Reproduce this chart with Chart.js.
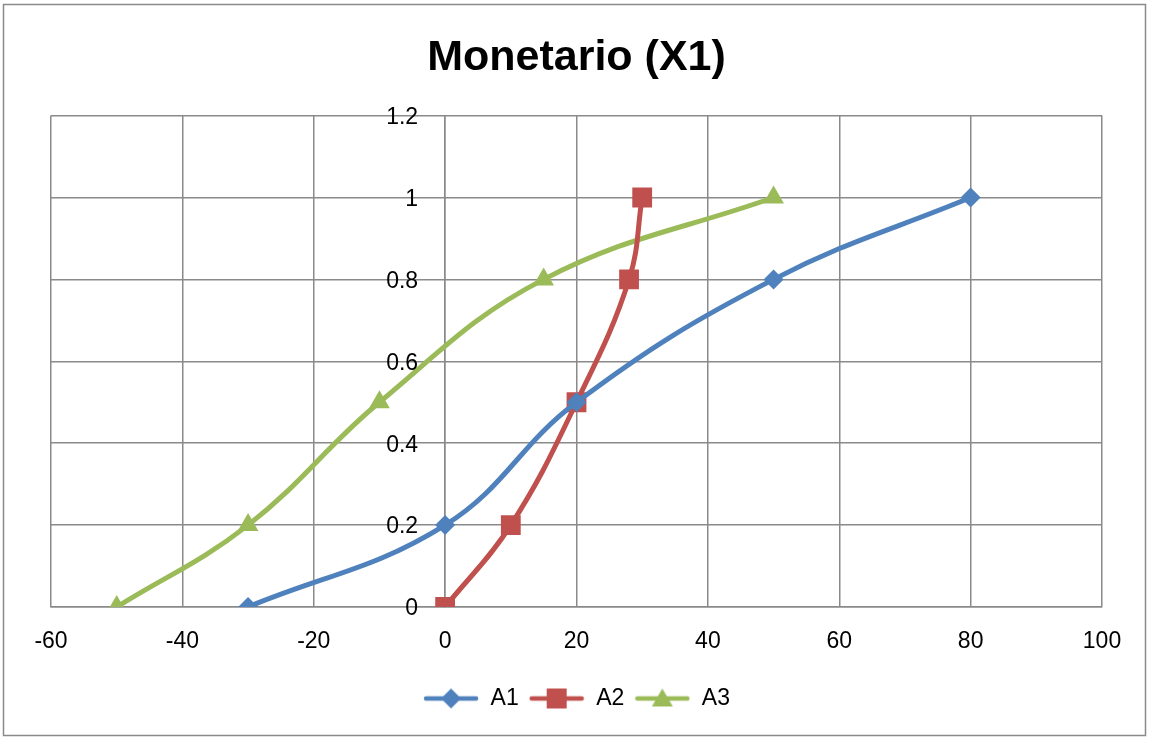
<!DOCTYPE html>
<html>
<head>
<meta charset="utf-8">
<script src="https://cdn.jsdelivr.net/npm/chart.js@4.4.1/dist/chart.umd.min.js"></script>
<style>
  html, body { margin: 0; padding: 0; background: #fff; }
  #wrap { width: 1149px; height: 738px; }
</style>
</head>
<body>
<div id="wrap"><canvas id="chart" width="1149" height="738"></canvas></div>
<script>
// series values (x = monetary value, y = cumulative share)
const a1X = [-30, 0, 20, 50, 80];
const a1Y = [0, 0.2, 0.5, 0.8, 1];
const a2X = [0, 10, 20, 28, 30];
const a2Y = [0, 0.2, 0.5, 0.8, 1];
const a3X = [-50, -30, -10, 15, 50];
const a3Y = [0, 0.2, 0.5, 0.8, 1];

const seriesNames = ['A1', 'A2', 'A3'];
const xTicks = [-60, -40, -20, 0, 20, 40, 60, 80, 100];
const yTicks = [0, 0.2, 0.4, 0.6, 0.8, 1, 1.2];

const colors = ['#4F81BD', '#C0504D', '#9BBB59'];
const markers = ['rectRot', 'rect', 'triangle'];
const radii = [10, 14, 12];
const FONT = '"Liberation Sans", Arial, sans-serif';
const GRID = '#8a8a8a';

const toPoints = (xs, ys) => xs.map((x, i) => ({ x: x, y: ys[i] }));

// legend swatch: short line with the marker on top
function legendIcon(color, style) {
  const c = document.createElement('canvas');
  c.width = 56; c.height = 22;
  const g = c.getContext('2d');
  g.strokeStyle = color;
  g.fillStyle = color;
  g.lineWidth = 4.5;
  g.lineCap = 'round';
  g.beginPath(); g.moveTo(3, 11); g.lineTo(53, 11); g.stroke();
  g.beginPath();
  if (style === 'rectRot') {
    g.moveTo(28, 1); g.lineTo(38, 11); g.lineTo(28, 21); g.lineTo(18, 11);
  } else if (style === 'rect') {
    g.rect(18, 1, 20, 20);
  } else {
    g.moveTo(28, 1); g.lineTo(38.5, 19); g.lineTo(17.5, 19);
  }
  g.closePath(); g.fill();
  return c;
}

const datasets = [toPoints(a1X, a1Y), toPoints(a2X, a2Y), toPoints(a3X, a3Y)].map((pts, i) => ({
  label: seriesNames[i],
  data: pts,
  borderColor: colors[i],
  backgroundColor: colors[i],
  borderWidth: 5,
  tension: 0.4,
  pointStyle: markers[i],
  pointRadius: radii[i],
  pointBorderWidth: 0,
  showLine: true
}));

const frame = {
  id: 'frame',
  beforeDraw(chart) {
    const g = chart.ctx;
    g.save();
    g.fillStyle = '#fff';
    g.fillRect(0, 0, chart.width, chart.height);
    g.strokeStyle = GRID;
    g.lineWidth = 1.5;
    g.strokeRect(3.5, 4.5, chart.width - 7, chart.height - 7);
    g.restore();
  }
};

// y labels sit to the left of the vertical axis at x = 0
const yLabels = {
  id: 'yLabels',
  afterDatasetsDraw(chart) {
    const g = chart.ctx;
    const xs = chart.scales.x, ys = chart.scales.y;
    const x0 = xs.getPixelForValue(0) - 27;
    g.save();
    g.font = '23px ' + FONT;
    g.fillStyle = '#000';
    g.textAlign = 'right';
    g.textBaseline = 'middle';
    yTicks.forEach(v => g.fillText(String(v), x0, ys.getPixelForValue(v) + 2));
    g.restore();
  }
};

new Chart(document.getElementById('chart'), {
  type: 'scatter',
  data: { datasets: datasets },
  plugins: [frame, yLabels],
  options: {
    responsive: false,
    animation: false,
    layout: { padding: { left: 51, right: 47, top: 0, bottom: 18 } },
    plugins: {
      title: {
        display: true,
        text: 'Monetario (X1)',
        color: '#000',
        font: { family: FONT, size: 43, weight: 'bold' },
        padding: { top: 32, bottom: 32 }
      },
      legend: {
        position: 'bottom',
        labels: {
          color: '#000',
          font: { family: FONT, size: 23 },
          usePointStyle: true,
          pointStyleWidth: 56,
          boxHeight: 22,
          padding: 10,
          generateLabels: (chart) => chart.data.datasets.map((ds, i) => ({
            text: ds.label,
            fillStyle: ds.borderColor,
            strokeStyle: ds.borderColor,
            fontColor: '#000',
            lineWidth: 0,
            pointStyle: legendIcon(colors[i], markers[i]),
            datasetIndex: i
          }))
        }
      },
      tooltip: { enabled: false }
    },
    scales: {
      x: {
        type: 'linear',
        min: -60,
        max: 100,
        afterBuildTicks: (s) => { s.ticks = xTicks.map(v => ({ value: v })); },
        afterFit: (s) => { s.height = 70; },
        grid: { color: GRID, lineWidth: 1.5, drawTicks: false },
        border: { color: GRID, width: 1.5 },
        ticks: { color: '#000', font: { family: FONT, size: 23 }, padding: 21 }
      },
      y: {
        type: 'linear',
        position: { x: 0 },
        min: 0,
        max: 1.2,
        afterBuildTicks: (s) => { s.ticks = yTicks.map(v => ({ value: v })); },
        grid: { color: GRID, lineWidth: 1.5, drawTicks: false },
        border: { color: GRID, width: 1.5 },
        ticks: { display: false }
      }
    }
  }
});
</script>
</body>
</html>
